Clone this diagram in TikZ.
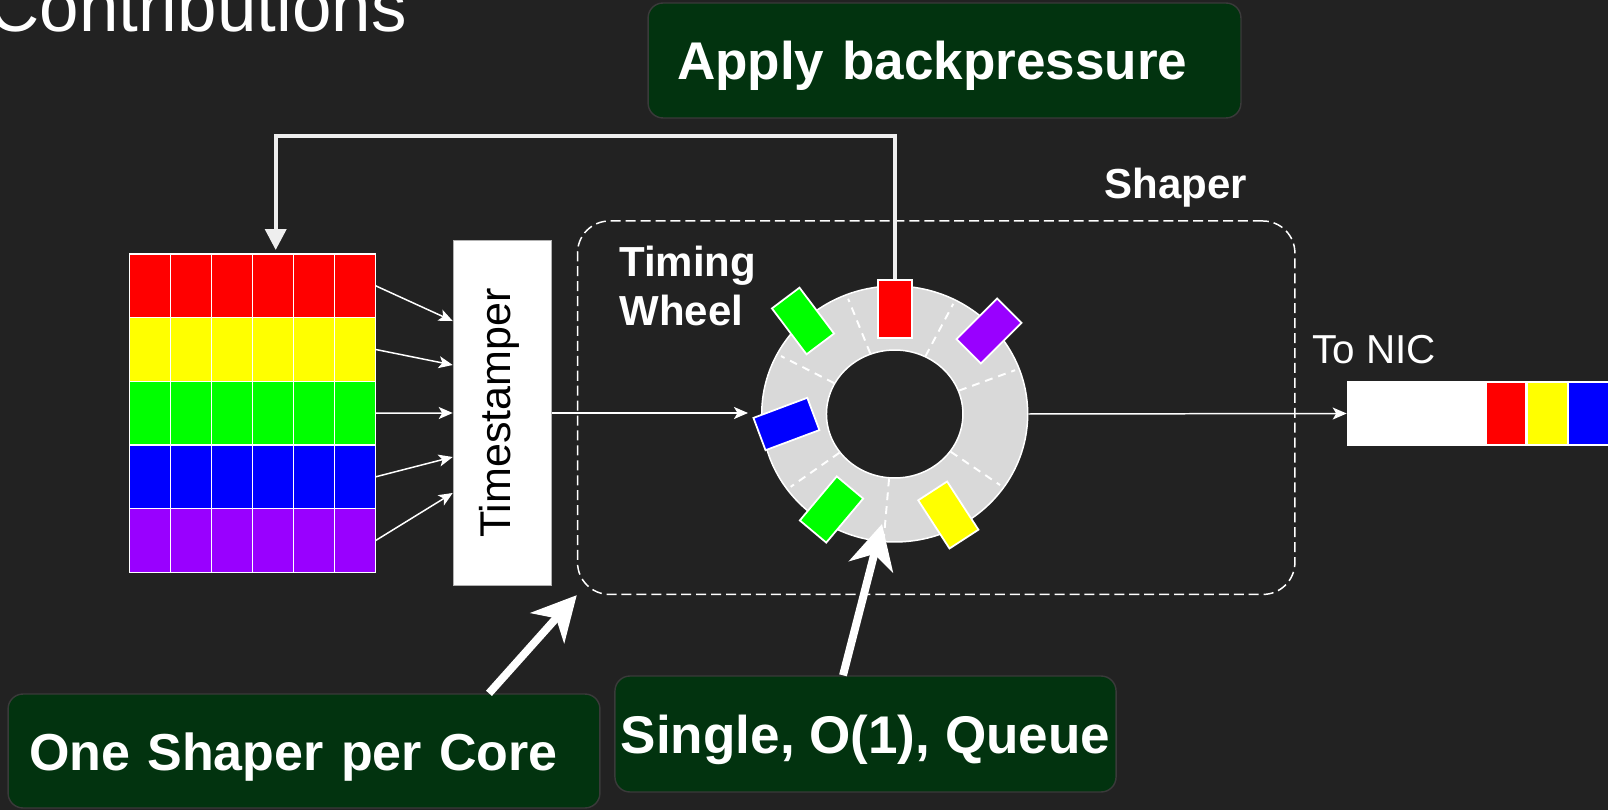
\documentclass[tikz,border=0pt]{standalone}
\usepackage{fontspec}
\setmainfont{Liberation Sans}
\usepackage{xcolor}
\usepackage{tikz}
\usetikzlibrary{arrows.meta,shapes.geometric}

\definecolor{bg}{HTML}{222222}
\definecolor{notefill}{HTML}{02330F}
\definecolor{noteline}{HTML}{3A3A3A}
\definecolor{ringgray}{HTML}{D9D9D9}
\definecolor{fbline}{HTML}{EEEEEE}
\definecolor{pktred}{HTML}{FF0000}
\definecolor{pktyellow}{HTML}{FFFF00}
\definecolor{pktgreen}{HTML}{00FF00}
\definecolor{pktblue}{HTML}{0000FF}
\definecolor{pktpurple}{HTML}{9900FF}

\newcommand{\headfont}{\fontsize{40.4}{48}\selectfont}
\newcommand{\notefont}{\fontsize{30.2}{36}\selectfont\bfseries}
\newcommand{\wheelfont}{\fontsize{23.9}{27.7}\selectfont\bfseries}
\newcommand{\stampfont}{\fontsize{24.5}{29}\selectfont}
\newcommand{\nicfont}{\fontsize{23}{27}\selectfont}

\begin{document}
\begin{tikzpicture}[x=0.02cm, y=-0.02cm,
    cell/.style={draw=white, line width=0.85pt, minimum width=0.8213cm, minimum height=1.2732cm, inner sep=0pt, outer sep=0pt},
    slot/.style={draw=white, line width=1pt, minimum width=0.69cm, minimum height=1.15cm, inner sep=0pt},
    note/.style={draw=noteline, line width=0.8pt, fill=notefill, rounded corners=0.3cm, text=white, font=\notefont, text height=0.76cm, text depth=0pt},
    flow/.style={draw=white, line width=0.85pt, -{Stealth[length=0.28cm, width=0.24cm, inset=0.07cm]}},
    callout/.style={draw=white, line width=4.5pt, -{Stealth[length=0.88cm, width=0.9cm, inset=0.26cm]}},
    spoke/.style={draw=white, line width=1.1pt, dash pattern=on 4.5pt off 3.4pt, shorten >=0.1cm}]
    \fill[bg] (0,0) rectangle (1608,810);
    \useasboundingbox (0,0) rectangle (1608,810);

    \node [anchor=base west, inner sep=0pt, text=white, font=\headfont] (title) at (-12,32) {Contributions};

    \foreach \col [count=\r] in {pktred,pktyellow,pktgreen,pktblue,pktpurple}
      \foreach \c in {1,...,6}
        \node [cell, fill=\col] (c\r\c) at ({129.3+41.07*(\c-0.5)}, {254+63.66*(\r-0.5)}) {};

    \node [fill=white, draw=gray!60, line width=0.6pt, minimum width=1.974cm, minimum height=6.92cm, inner sep=0pt] (ts) at (502.6,413) {};
    \node [rotate=90, text=black, font=\stampfont] (tstext) at ([xshift=-0.07cm]ts.center) {Timestamper};

    \foreach \r/\dy in {1/1.84, 2/0.96, 3/0, 4/-0.88, 5/-1.6}
      \draw [flow] (c\r6.east) -- ([yshift=\dy cm]ts.west);

    \node [draw=white, line width=0.85pt, dash pattern=on 5.7pt off 2.8pt, rounded corners=0.64cm, minimum width=14.35cm, minimum height=7.47cm, inner sep=0pt] (shaper) at (936.2,407.7) {};
    \node [anchor=base west, inner sep=0pt, text=white, font=\wheelfont] (shaperlabel) at (1104,198.3) {Shaper};
    \node [anchor=north west, inner sep=0pt, align=left, text=white, font=\wheelfont] (wheellabel) at (619,246) {Timing\\Wheel};

    \node [ellipse, draw=white, fill=ringgray, line width=0.85pt, minimum width=5.32cm, minimum height=5.12cm, inner sep=0pt] (wheel) at (894.7,414) {};
    \node [ellipse, draw=white, fill=bg, line width=0.85pt, minimum width=2.73cm, minimum height=2.56cm, inner sep=0pt] (hub) at (wheel) {};
    \foreach \a in {112,62,20,-34,-95,-145,153}
      \draw [spoke] (hub.\a) -- (wheel.\a);

    \coordinate (wheelin) at (748,413);
    \draw [flow] (ts.east) -- (wheelin);

    \node [slot, fill=pktred] (slotred) at (895,309) {};
    \node [slot, fill=pktgreen, rotate=37] (slotgreena) at (803,321) {};
    \node [slot, fill=pktpurple, rotate=-45] (slotpurple) at (989,331) {};
    \node [slot, fill=pktblue, rotate=-69.5] (slotblue) at (786.4,424) {};
    \node [slot, fill=pktgreen, rotate=-40] (slotgreenb) at (831.5,509.5) {};
    \node [slot, fill=pktyellow, rotate=33] (slotyellow) at (948.3,515) {};

    \coordinate (fbcorner) at (275.7,136);
    \draw [fbline, line width=2.2pt, -{Triangle[length=0.42cm, width=0.42cm]}, shorten >=0.08cm]
      (slotred.north) |- (fbcorner) -- (fbcorner |- c14.north);

    \node [fill=white, minimum width=6.2cm, minimum height=1.3cm, inner sep=0pt] (nic) at (1502,413.5) {};
    \foreach \col/\x in {pktred/1506, pktyellow/1547.3, pktblue/1588.7}
      \node [cell, fill=\col, minimum width=0.8cm, minimum height=1.24cm] (nic\col) at (\x,413.5) {};
    \node [anchor=base west, inner sep=0pt, text=white, font=\nicfont] (tonic) at (1312,364) {To NIC};
    \draw [flow] (wheel.east) -- (nic.west);

    \node [note, minimum width=11.86cm, minimum height=2.3cm, inner xsep=0.58cm, text width=10.7cm, align=left] (backpressure) at (944.5,60.5) {Apply backpressure};
    \node [note, font=\fontsize{29.6}{36}\selectfont\bfseries, minimum width=11.84cm, minimum height=2.28cm, inner xsep=0.42cm, text width=11.0cm, align=left] (onecore) at (304,751) {One Shaper per Core};
    \node [note, minimum width=10.02cm, minimum height=2.32cm] (single) at (865.5,734) {Single, O(1), Queue};

    \coordinate (ringtip) at (882,524);
    \draw [callout] ([xshift=3.7cm]onecore.north) -- (shaper.south west);
    \draw [callout] ([xshift=-0.45cm]single.north) -- (ringtip);
\end{tikzpicture}
\end{document}
